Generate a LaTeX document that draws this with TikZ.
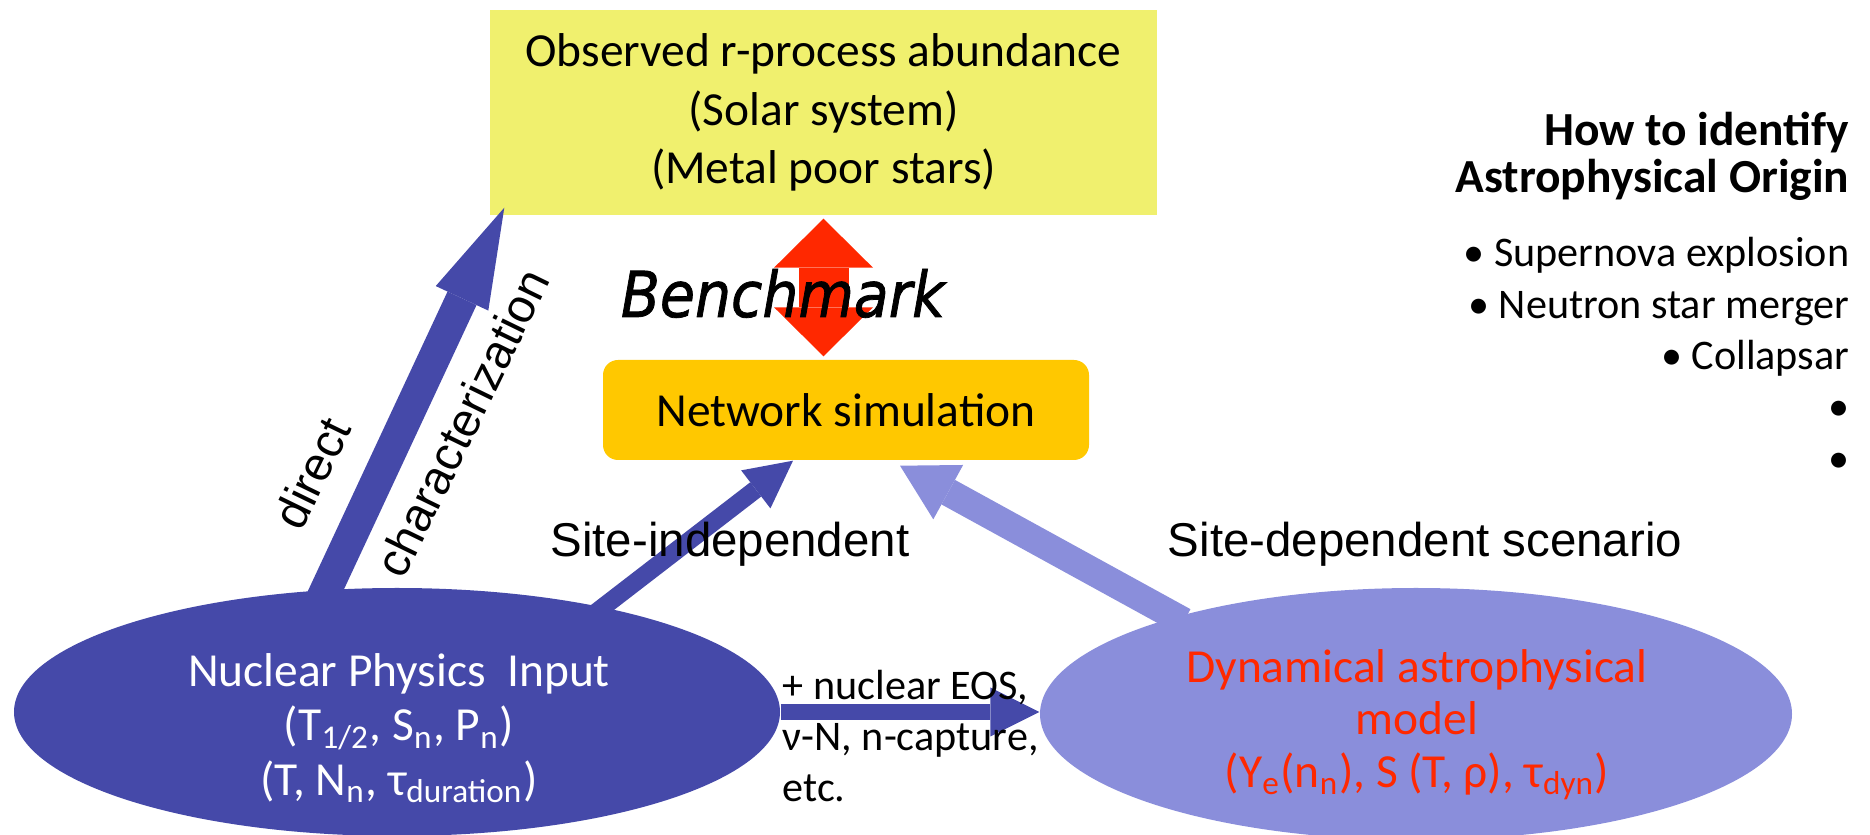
\documentclass[tikz,border=0pt]{standalone}
\usepackage{fontspec}
\setmainfont{Carlito}
\newfontfamily\arialfont{Liberation Sans}
\newfontfamily\comicfont[FakeBold=1.2]{DejaVu Sans Condensed}
\usetikzlibrary{arrows.meta,positioning,calc,shapes.geometric}

\definecolor{nucblue}{RGB}{69,73,169}
\definecolor{dynblue}{RGB}{138,142,219}
\definecolor{obsyellow}{RGB}{240,240,110}
\definecolor{netorange}{RGB}{255,200,0}
\definecolor{benchred}{RGB}{255,40,0}

\begin{document}
\begin{tikzpicture}[
    obsbox/.style={fill=obsyellow, minimum width=6.67cm, minimum height=2.05cm, inner sep=0pt, align=center, font=\fontsize{13.5}{16.7}\selectfont},
    netbox/.style={fill=netorange, rounded corners=1.5mm, minimum width=4.86cm, minimum height=1cm, inner sep=0pt, font=\fontsize{13.5}{16.7}\selectfont},
    nucell/.style={ellipse, fill=nucblue, minimum width=7.66cm, minimum height=2.48cm, inner sep=0pt},
    dynell/.style={ellipse, fill=dynblue, minimum width=7.52cm, minimum height=2.52cm, inner sep=0pt},
    bodytext/.style={font=\fontsize{13.5}{16.7}\selectfont, align=center, inner sep=0pt},
    smalltext/.style={font=\fontsize{12}{14.6}\selectfont, inner sep=0pt},
    arialtext/.style={font=\arialfont\fontsize{13.5}{16}\selectfont, inner sep=0pt},
    benchtext/.style={font=\comicfont\itshape\fontsize{18}{21}\selectfont, inner sep=0pt},
    bigarrow/.style={nucblue, line width=3.2mm, -{Triangle[length=10mm, width=5.8mm, line width=0pt]}},
    indarrow/.style={nucblue, line width=1.8mm, -{Triangle[length=4.7mm, width=4.8mm, line width=0pt]}},
    deparrow/.style={dynblue, line width=2.8mm, -{Triangle[length=5.5mm, width=6.2mm, line width=0pt]}},
    sidearrow/.style={nucblue, line width=1.6mm, -{Triangle[length=4.9mm, width=4.9mm, line width=0pt]}},
    redarrow/.style={benchred, line width=5mm, {Triangle[length=4.9mm, width=9.9mm, line width=0pt]}-{Triangle[length=4.9mm, width=9.9mm, line width=0pt]}}
]
    \useasboundingbox (0,0) rectangle (18.7,-8.35);

    % Boxes
    \node[obsbox] (obs) at (8.235,-1.125) {Observed r-process abundance\\(Solar system)\\(Metal poor stars)};
    \node[netbox] (net) at (8.46,-4.10) {Network simulation};

    % Ellipses
    \node[nucell] (nuc) at (3.97,-7.12) {};
    \node[dynell] (dyn) at (14.16,-7.14) {};

    % Arrows
    \draw[redarrow, shorten <=0.3mm, shorten >=0.3mm] (obs.south) -- (obs.south |- net.north);
    \draw[bigarrow, shorten <=-1.5mm] (nuc.120) -- ($(obs.south west)+(0.15,0.08)$);
    \draw[indarrow, shorten <=-1mm] (nuc.27) -- ($(net.south)+(-0.53,0)$);
    \draw[deparrow, shorten <=-1mm] (dyn.158) -- ($(net.south)+(0.54,-0.05)$);
    \draw[sidearrow] (nuc.east) -- (nuc.east -| dyn.west);

    % Ellipse texts
    \node[bodytext, font=\fontsize{13.5}{15.5}\selectfont, text=white] (nuctxt) at (3.99,-7.28) {Nuclear Physics~ Input\\(T\textsubscript{1/2}, S\textsubscript{n}, P\textsubscript{n})\\(T, N\textsubscript{n}, τ\textsubscript{duration})};
    \node[bodytext, font=\fontsize{13.5}{14.8}\selectfont, text=benchred] (dyntxt) at (14.17,-7.25) {Dynamical astrophysical\\model\\(Y\textsubscript{e}(n\textsubscript{n}), S (T, ρ), τ\textsubscript{dyn})};

    % Labels
    \node[benchtext, anchor=base] (bench) at (7.83,-3.17) {Benchmark};
    \node[arialtext, rotate=64] (directlbl) at (3.12,-4.73) {direct};
    \node[arialtext, rotate=64] (charlbl) at (4.62,-4.23) {characterization};
    \node[arialtext, anchor=base] (indlbl) at (7.30,-5.57) {Site-independent};
    \node[arialtext, anchor=base] (deplbl) at (14.25,-5.57) {Site-dependent scenario};
    \node[smalltext, align=left, anchor=west] (extras) at (7.82,-7.36) {+ nuclear EOS,\\ν-N, n-capture,\\etc.};

    % Right column
    \node[bodytext, font=\fontsize{13.5}{13.6}\selectfont\bfseries, align=right, anchor=north east] (howto) at (18.50,-1.11) {How to identify\\Astrophysical Origin};
    \node[smalltext, align=right, anchor=north east] (sites) at (18.50,-2.37) {• Supernova explosion\\• Neutron star merger\\• Collapsar\\•\\•};
\end{tikzpicture}
\end{document}
